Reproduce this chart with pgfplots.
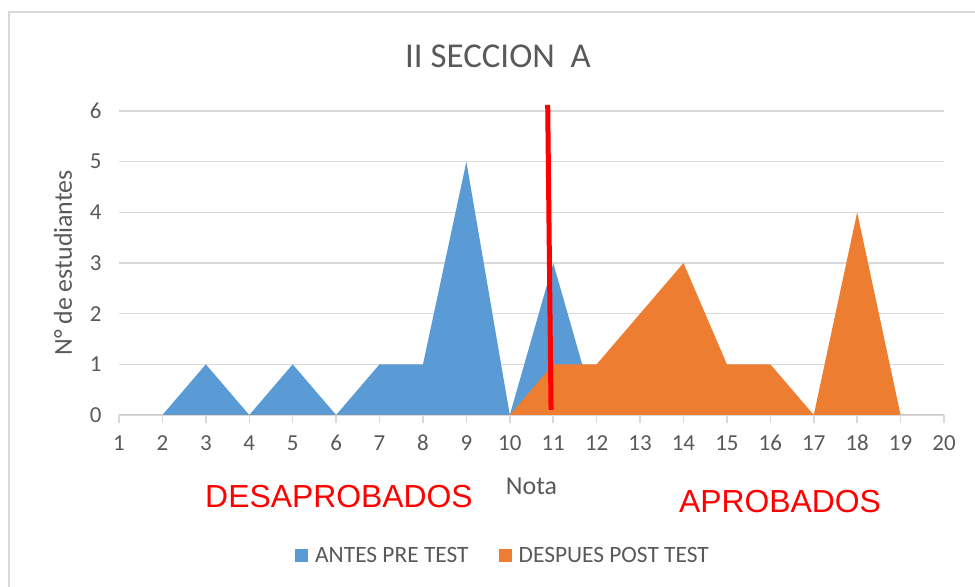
\documentclass[border=0pt]{standalone}
\usepackage{fontspec}
\setmainfont{Carlito}
\newfontfamily\arialfont{Liberation Sans}
\usepackage{pgfplots}
\pgfplotsset{compat=1.18}
\definecolor{txtgray}{HTML}{595959}
\definecolor{gridgray}{HTML}{D9D9D9}
\definecolor{blueC}{HTML}{5B9BD5}
\definecolor{orangeC}{HTML}{ED7D31}
\definecolor{redC}{HTML}{FF0000}
\begin{document}
\begin{tikzpicture}[x=1bp,y=1bp]
\useasboundingbox (0,0) rectangle (975,587);
\draw[gridgray, line width=1.5bp] (9,-2) -- (9,575) -- (980,575);
\node[anchor=base, text=txtgray, font=\fontsize{35}{42}\selectfont] at (498,519) {II SECCION\ \ A};
\begin{axis}[
  at={(119bp,172bp)}, anchor=south west,
  scale only axis, width=825bp, height=304bp,
  xmin=1, xmax=20, ymin=0, ymax=6,
  clip=false,
  xtick={1,...,20}, ytick={0,...,6},
  axis x line*=bottom, axis y line*=left,
  x axis line style={-, gridgray, line width=1.5bp},
  y axis line style={draw=none},
  ymajorgrids, grid style={gridgray, line width=1.5bp},
  tick align=outside, major tick length=8bp,
  xtick style={gridgray, line width=1.5bp},
  ytick style={draw=none},
  /pgf/number format/assume math mode=true,
  tick label style={text=txtgray, font=\fontsize{23}{28}\selectfont},
  x tick label style={anchor=north, text height=15bp, text depth=0bp, yshift=-9bp},
  y tick label style={xshift=-6bp},
  xlabel={Nota}, ylabel={N° de estudiantes},
  label style={text=txtgray, font=\fontsize{26}{31}\selectfont},
  xlabel style={at={(axis description cs:0.5,0)}, anchor=base, yshift=-80bp},
  ylabel style={at={(axis description cs:-0.057,0.5)}, anchor=base},
  legend style={at={(axis description cs:0.4655,-0.462)}, anchor=center, draw=none, fill=none,
    text=txtgray, font=\fontsize{23.5}{28}\selectfont, legend columns=2,
    /tikz/every odd column/.append style={column sep=5bp},
    /tikz/every even column/.append style={column sep=28bp}},
  legend image code/.code={\fill[#1] (0bp,-6.5bp) rectangle (13bp,6.5bp);},
]
\addplot[fill=blueC, draw=none] coordinates {
 (1,0) (2,0) (3,1) (4,0) (5,1) (6,0) (7,1) (8,1) (9,5) (10,0) (11,3) (12,0) (13,0) (14,0) (15,0) (16,0) (17,0) (18,0) (19,0) (20,0)} \closedcycle;
\addlegendentry{ANTES PRE TEST}
\addplot[fill=orangeC, draw=none] coordinates {
 (1,0) (2,0) (3,0) (4,0) (5,0) (6,0) (7,0) (8,0) (9,0) (10,0) (11,1) (12,1) (13,2) (14,3) (15,1) (16,1) (17,0) (18,4) (19,0) (20,0)} \closedcycle;
\addlegendentry{DESPUES POST TEST}
\addplot[redC, line width=5bp, forget plot] coordinates {(10.873,6.12) (10.95,0.1)};
\end{axis}
\node[anchor=base, text=redC, font=\arialfont\fontsize{32}{38}\selectfont] at (339,79) {DESAPROBADOS};
\node[anchor=base, text=redC, font=\arialfont\fontsize{32}{38}\selectfont] at (780,74) {APROBADOS};
\end{tikzpicture}
\end{document}
